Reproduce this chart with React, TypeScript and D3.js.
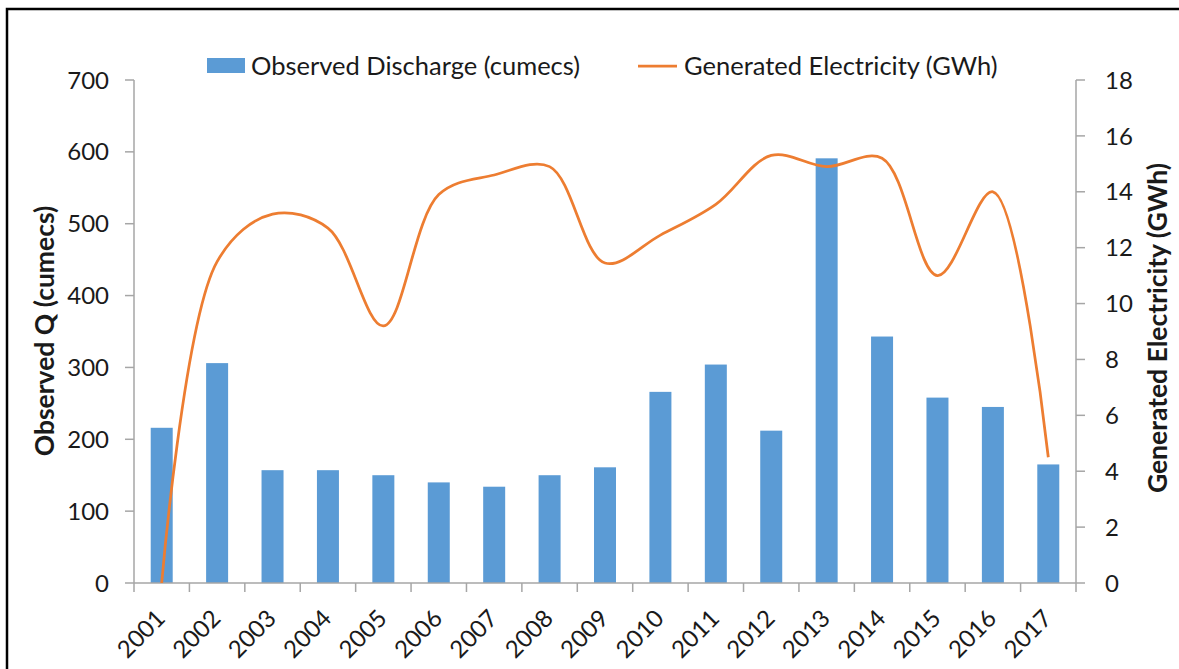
import React from "react";
import * as d3 from "d3";

const years = ["2001","2002","2003","2004","2005","2006","2007","2008","2009","2010","2011","2012","2013","2014","2015","2016","2017"];
const discharge = [216, 306, 157, 157, 150, 140, 134, 150, 161, 266, 304, 212, 591, 343, 258, 245, 165];
const electricity = [0, 11.5, 13.2, 12.7, 9.2, 13.9, 14.6, 14.9, 11.45, 12.45, 13.55, 15.3, 14.9, 15.2, 11.0, 14.0, 4.5];
const leftTicks = [0, 100, 200, 300, 400, 500, 600, 700];
const rightTicks = [0, 2, 4, 6, 8, 10, 12, 14, 16, 18];

const W = 1179, H = 669;
const M = { left: 134, right: 1076, top: 80, bottom: 583 };
const FONT = "Lato, 'Open Sans', sans-serif";
const BLUE = "#5B9BD5";
const ORANGE = "#ED7D31";
const AXIS = "#A6A6A6";
const TXT = "#1a1a1a";

export default function App() {
  const xs = d3.scaleBand<string>().domain(years).range([M.left, M.right]);
  const yL = d3.scaleLinear().domain([0, 700]).range([M.bottom, M.top]);
  const yR = d3.scaleLinear().domain([0, 18]).range([M.bottom, M.top]);
  const cxOf = (y: string) => (xs(y) as number) + xs.bandwidth() / 2;
  const line = d3.line<number>()
    .x((_, i) => cxOf(years[i]))
    .y((d) => yR(d))
    .curve(d3.curveCatmullRom.alpha(0.5));
  const bw = 22;
  return (
    <svg width={W} height={H} style={{ position: "absolute", left: 0, top: 0, background: "#fff" }} fontFamily={FONT}>
      <rect x={0} y={0} width={W} height={H} fill="#fff" />
      {/* frame */}
      <path d={`M7,${H} L7,9 L${W},9`} fill="none" stroke="#000" strokeWidth={2.5} />
      {/* bars */}
      {discharge.map((v, i) => {
        const cx = cxOf(years[i]);
        return <rect key={i} x={cx - bw / 2} y={yL(v)} width={bw} height={yL(0) - yL(v)} fill={BLUE} />;
      })}
      {/* axes */}
      <g stroke={AXIS} strokeWidth={1.5} fill="none">
        <line x1={M.left} x2={M.left} y1={M.top} y2={M.bottom} />
        {leftTicks.map((t) => <line key={t} x1={M.left - 9} x2={M.left} y1={yL(t)} y2={yL(t)} />)}
        <line x1={M.right} x2={M.right} y1={M.top} y2={M.bottom} />
        {rightTicks.map((t) => <line key={t} x1={M.right} x2={M.right + 9} y1={yR(t)} y2={yR(t)} />)}
        <line x1={M.left} x2={M.right} y1={M.bottom} y2={M.bottom} />
        {years.map((y) => <line key={y} x1={xs(y) as number} x2={xs(y) as number} y1={M.bottom} y2={M.bottom + 9} />)}
        <line x1={M.right} x2={M.right} y1={M.bottom} y2={M.bottom + 9} />
      </g>
      {/* line */}
      <path d={line(electricity) || ""} fill="none" stroke={ORANGE} strokeWidth={2.75} strokeLinejoin="round" />
      {/* tick labels */}
      <g fill={TXT} fontSize={24}>
        {leftTicks.map((t) => (
          <text key={t} x={M.left - 25} y={yL(t)} dy="0.36em" textAnchor="end">{t}</text>
        ))}
        {rightTicks.map((t) => (
          <text key={t} x={M.right + 29} y={yR(t)} dy="0.36em" textAnchor="start">{t}</text>
        ))}
        {years.map((y) => (
          <text key={y} transform={`translate(${cxOf(y) + 5},${M.bottom + 37}) rotate(-45)`} textAnchor="end">{y}</text>
        ))}
      </g>
      {/* axis titles */}
      <text transform={`translate(54,331) rotate(-90)`} textAnchor="middle" fontSize={26.5} fontWeight="bold" fill={TXT}>Observed Q (cumecs)</text>
      <text transform={`translate(1167,328) rotate(-90)`} textAnchor="middle" fontSize={26.5} fontWeight="bold" fill={TXT}>Generated Electricity (GWh)</text>
      {/* legend */}
      <rect x={207} y={58} width={38} height={15} fill={BLUE} />
      <text x={251} y={66} dy="0.36em" fontSize={25.5} fill={TXT}>Observed Discharge (cumecs)</text>
      <line x1={638} x2={677} y1={66} y2={66} stroke={ORANGE} strokeWidth={2.75} />
      <text x={684} y={66} dy="0.36em" fontSize={25.5} fill={TXT}>Generated Electricity (GWh)</text>
    </svg>
  );
}
